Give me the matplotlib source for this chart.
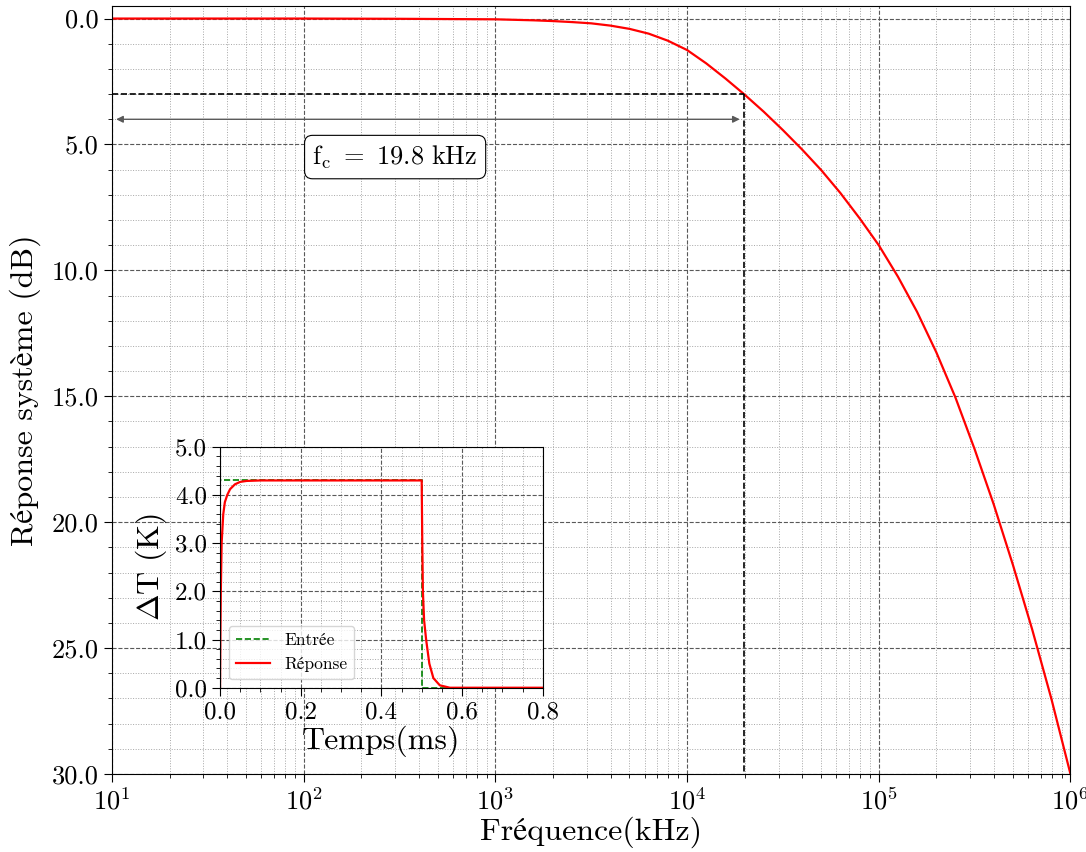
import matplotlib
matplotlib.use("Agg")
import matplotlib.pyplot as plt
from matplotlib.ticker import MultipleLocator, FormatStrFormatter

plt.rcParams['font.family'] = ['cmr10', 'STIXGeneral']
plt.rcParams['mathtext.fontset'] = 'cm'
plt.rcParams['axes.formatter.use_mathtext'] = True
plt.rcParams['axes.unicode_minus'] = False

# frequency response
freq_khz = [10, 100, 316, 1000, 1259, 1585, 1995, 2512, 3162, 3981, 5012,
            6310, 7943, 10000, 12589, 15849, 19953, 25119, 31623, 39811,
            50119, 63096, 79433, 100000, 125893, 158489, 199526, 251189,
            316228, 398107, 501187, 630957, 794328, 1000000]
gain_db = [0.0, 0.0, 0.01, 0.03, 0.05, 0.07, 0.1, 0.14, 0.19, 0.28, 0.41,
           0.6, 0.88, 1.25, 1.78, 2.38, 3.02, 3.7, 4.43, 5.2,
           6.02, 6.93, 7.93, 9.0, 10.25, 11.65, 13.25, 15.05,
           17.1, 19.3, 21.7, 24.25, 27.0, 30.0]
fc_khz = 19.8e3
fc_db = 3.0

# step test (inset)
t_in = [0.0, 0.0, 0.5, 0.5, 0.8]
dT_in = [0.0, 4.3, 4.3, 0.0, 0.0]
t_out = [0.0, 0.001, 0.002, 0.004, 0.008, 0.012, 0.018, 0.025, 0.037, 0.05,
         0.066, 0.1, 0.5, 0.5015, 0.503, 0.506, 0.511, 0.519, 0.529, 0.545,
         0.57, 0.8]
dT_out = [0.0, 1.2, 2.0, 3.0, 3.6, 3.85, 4.0, 4.12, 4.22, 4.27,
          4.29, 4.3, 4.3, 3.0, 2.0, 1.4, 1.0, 0.5, 0.2, 0.05,
          0.0, 0.0]

fig = plt.figure(figsize=(10.86, 8.52), dpi=100)
ax = fig.add_axes([0.1031, 0.0915, 0.8826, 0.9015])

ax.semilogx(freq_khz, gain_db, color='red', lw=1.6)
ax.set_xlim(10, 1e6)
ax.set_ylim(30, -0.5)

ax.plot([10, fc_khz], [fc_db, fc_db], 'k--', lw=1.2)
ax.plot([fc_khz, fc_khz], [fc_db, 30], 'k--', lw=1.2)
ax.annotate('', xy=(10, 4.0), xytext=(fc_khz, 4.0),
            arrowprops=dict(arrowstyle='<|-|>', color='0.35', lw=1.0,
                            mutation_scale=10, shrinkA=3, shrinkB=3))
ax.text(300, 5.5, r'$\mathrm{f_c}\ =\ \mathrm{19.8\ kHz}$', fontsize=19,
        ha='center', va='center',
        bbox=dict(boxstyle='round,pad=0.3', fc='white', ec='black', lw=0.8))

ax.yaxis.set_major_locator(MultipleLocator(5))
ax.yaxis.set_minor_locator(MultipleLocator(1))
ax.yaxis.set_major_formatter(FormatStrFormatter('%.1f'))
ax.grid(which='major', ls='--', color='0.35', lw=0.8)
ax.grid(which='minor', ls=':', color='0.65', lw=0.7)
ax.tick_params(which='major', labelsize=19, length=6, direction='out')
ax.tick_params(which='minor', length=3, direction='out')
ax.set_xlabel('Fréquence(kHz)', fontsize=23, labelpad=2)
ax.set_ylabel('Réponse système (dB)', fontsize=23, labelpad=8)

# inset
axi = fig.add_axes([0.2026, 0.1928, 0.2971, 0.2829])
axi.plot(t_in, dT_in, color='green', ls='--', lw=1.2, label='Entrée')
axi.plot(t_out, dT_out, color='red', lw=1.6, label='Réponse')
axi.set_xlim(0, 0.8)
axi.set_ylim(0, 5)
axi.xaxis.set_major_locator(MultipleLocator(0.2))
axi.xaxis.set_minor_locator(MultipleLocator(0.05))
axi.yaxis.set_major_locator(MultipleLocator(1))
axi.yaxis.set_minor_locator(MultipleLocator(0.2))
axi.xaxis.set_major_formatter(FormatStrFormatter('%.1f'))
axi.yaxis.set_major_formatter(FormatStrFormatter('%.1f'))
axi.grid(which='major', ls='--', color='0.35', lw=0.8)
axi.grid(which='minor', ls=':', color='0.65', lw=0.7)
axi.tick_params(which='major', labelsize=18, length=6, direction='out')
axi.tick_params(which='minor', length=3, direction='out')
axi.set_xlabel('Temps(ms)', fontsize=23, labelpad=2)
axi.set_ylabel(r'$\Delta\mathrm{T\ (K)}$', fontsize=23, labelpad=4)
axi.legend(loc='lower left', fontsize=12.5)

fig.savefig('out.png', dpi=100)
